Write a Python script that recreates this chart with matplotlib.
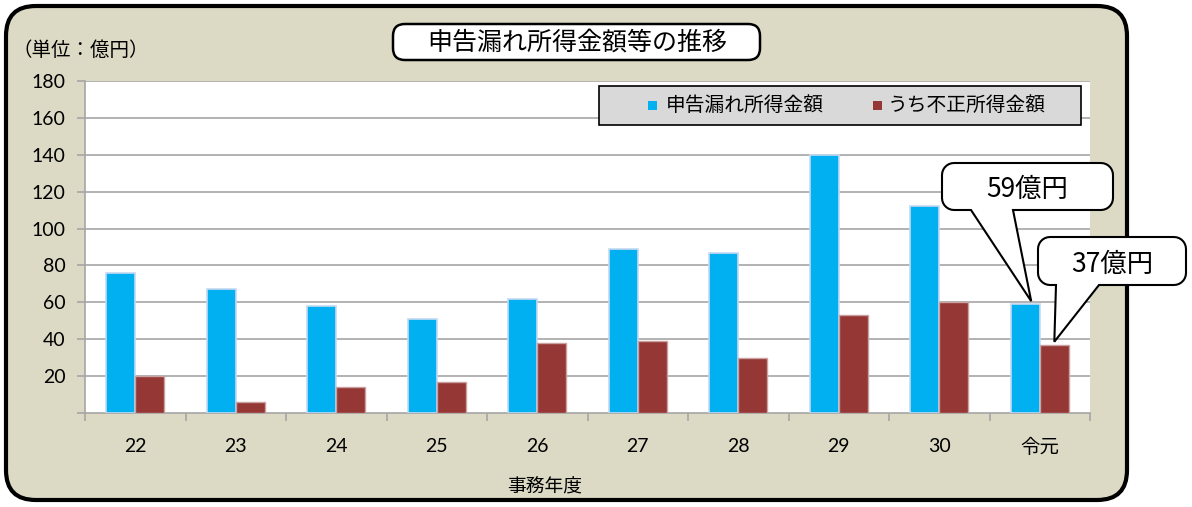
import matplotlib.pyplot as plt
import numpy as np
from matplotlib.patches import FancyBboxPatch, PathPatch, Rectangle
from matplotlib.path import Path

plt.rcParams['font.family'] = ['Lato', 'Noto Sans CJK JP', 'DejaVu Sans']

years = ["22", "23", "24", "25", "26", "27", "28", "29", "30", "令元"]
undeclared = [76, 67, 58, 51, 62, 89, 87, 140, 112, 59]
fraudulent = [20, 6, 14, 17, 38, 39, 30, 53, 60, 37]

W, H = 1192, 507
fig = plt.figure(figsize=(W / 100, H / 100), dpi=100)
fig.patch.set_facecolor("white")


def fx(px):
    return px / W


def fy(py):
    return 1 - py / H


# outer rounded frame
frame = FancyBboxPatch((fx(6), fy(500)), fx(1121), 494 / H,
                       boxstyle="round,pad=0,rounding_size=0.025",
                       transform=fig.transFigure, facecolor="#DCD9C4",
                       edgecolor="black", linewidth=3, mutation_aspect=W / H,
                       zorder=-5)
fig.patches.append(frame)

ax = fig.add_axes([fx(85), fy(413), fx(1005), 332 / H])
ax.set_facecolor("white")

x = np.arange(len(years))
w = 0.29
b1 = ax.bar(x - w / 2, undeclared, w, color="#00B0F0", edgecolor="#C5D9F1",
            linewidth=1.2, label="申告漏れ所得金額", zorder=3)
b2 = ax.bar(x + w / 2, fraudulent, w, color="#953735", edgecolor="#C9A2A1",
            linewidth=1.0, label="うち不正所得金額", zorder=3)

ax.set_xlim(-0.5, len(years) - 0.5)
ax.set_ylim(0, 180)
ax.set_yticks(range(20, 181, 20))
ax.yaxis.grid(True, color="#A6A6A6", linewidth=1.2, zorder=0)
ax.set_xticks(x)
ax.set_xticklabels(years, fontsize=14, family=['Lato', 'Noto Sans CJK JP'])
ax.set_xticks(np.arange(-0.5, len(years), 1), minor=True)
ax.tick_params(axis="x", which="major", length=0, pad=18)
ax.tick_params(axis="x", which="minor", length=6, color="#A6A6A6", width=1.2)
ax.tick_params(axis="y", length=6, color="#A6A6A6", width=1.2, labelsize=14, pad=8)
ax.set_yticks([0], minor=True)
ax.tick_params(axis="y", which="minor", length=6, color="#A6A6A6", width=1.2)
for s in ["top", "right"]:
    ax.spines[s].set_visible(False)
for s in ["left", "bottom"]:
    ax.spines[s].set_color("#A6A6A6")
    ax.spines[s].set_linewidth(1.2)

ax.set_xlabel("事務年度", fontsize=13.5, family=['Noto Sans CJK JP'], labelpad=12)
ax.xaxis.set_label_coords((545 - 85) / 1005, -0.19)

# legend box (drawn by hand to match the wide spacing)
fig.patches.append(Rectangle((fx(599), fy(125)), fx(482), 39 / H,
                             transform=fig.transFigure, facecolor="#D9D9D9",
                             edgecolor="black", linewidth=1.2, zorder=4))
for bars, mx, tx in [(b1, 648, 666), (b2, 873, 888)]:
    fig.patches.append(Rectangle((fx(mx), fy(110)), fx(9), 9 / H,
                                 transform=fig.transFigure,
                                 facecolor=bars.patches[0].get_facecolor(),
                                 edgecolor="none", zorder=5))
    fig.text(fx(tx), fy(105.5), bars.get_label(), ha="left", va="center",
             fontsize=14.2, family=['Noto Sans CJK JP'], zorder=5)

# title box
tbox = FancyBboxPatch((fx(393), fy(60)), fx(367), 36 / H,
                      boxstyle="round,pad=0,rounding_size=0.01",
                      transform=fig.transFigure, facecolor="white",
                      edgecolor="black", linewidth=1.8, mutation_aspect=W / H)
fig.patches.append(tbox)
fig.text(fx(577), fy(43), "申告漏れ所得金額等の推移", ha="center", va="center",
         fontsize=18, family=['Noto Sans CJK JP'])

fig.text(fx(12), fy(50), "（単位：億円）", ha="left", va="center",
         fontsize=14, family=['Noto Sans CJK JP'])


def callout(x0, y0, x1, y1, r, ba, bb, tip, text):
    # rounded box with a pointer, pixel coords (y down)
    pts = []
    corners = [(x1 - r, y0 + r, -90, 0), (x1 - r, y1 - r, 0, 90),
               (x0 + r, y1 - r, 90, 180), (x0 + r, y0 + r, 180, 270)]
    for i, (cx, cy, a0, a1) in enumerate(corners):
        for a in np.linspace(np.radians(a0), np.radians(a1), 8):
            pts.append((cx + r * np.cos(a), cy + r * np.sin(a)))
        if i == 1:
            pts.append((bb, y1))
            pts.append(tip)
            pts.append((ba, y1))
    pts.append(pts[0])
    verts = [(fx(px), fy(py)) for px, py in pts]
    patch = PathPatch(Path(verts), transform=fig.transFigure,
                      facecolor="white", edgecolor="black", linewidth=1.5,
                      zorder=5)
    fig.patches.append(patch)
    fig.text(fx((x0 + x1) / 2), fy((y0 + y1) / 2 + 3), text, ha="center",
             va="center", fontsize=19, family=['Noto Sans CJK JP'], zorder=6)


def data_px(xv, yv):
    dx, dy = ax.transData.transform((xv, yv))
    return dx, H - dy


last = len(years) - 1
tip1 = data_px(last - w / 2 + 0.06, undeclared[last])
tip2 = data_px(last + w / 2, fraudulent[last])
callout(942, 163, 1113, 210, 12, 971, 1013, (tip1[0], tip1[1] - 3), "59億円")
callout(1038, 237, 1186, 285, 12, 1056, 1099, (tip2[0], tip2[1] - 3), "37億円")

fig.savefig("out.png", dpi=100)
